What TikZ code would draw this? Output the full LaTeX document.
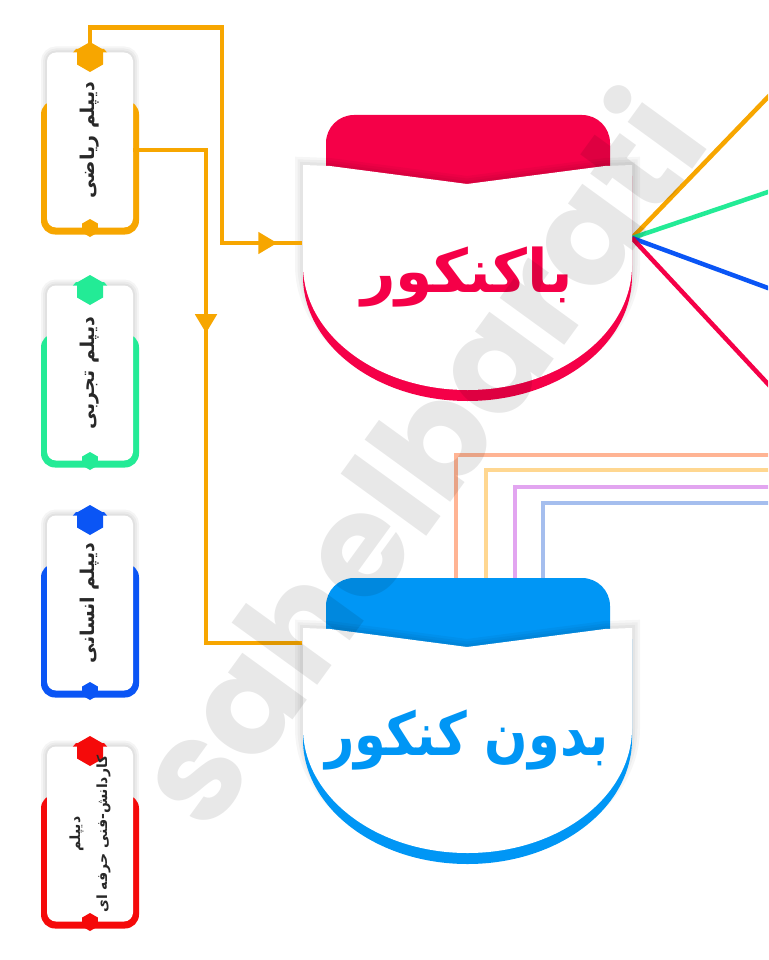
\documentclass[tikz,border=0pt]{standalone}
\usepackage{fontspec}
\usetikzlibrary{calc,arrows.meta,decorations.markings}
\TeXXeTstate=1
\newfontfamily\farsi[Script=Arabic]{DejaVu Sans}
\newfontfamily\farsinarrow[Script=Arabic,FakeStretch=0.85]{DejaVu Sans}
\newfontfamily\wmfont{Poppins}
\definecolor{dorange}{RGB}{247,166,0}
\definecolor{dgreen}{RGB}{35,235,150}
\definecolor{dblue}{RGB}{10,85,245}
\definecolor{dred}{RGB}{245,10,10}
\definecolor{kred}{RGB}{245,0,72}
\definecolor{kblue}{RGB}{0,150,245}
\definecolor{pa1}{RGB}{255,180,148}
\definecolor{pa2}{RGB}{255,215,145}
\definecolor{pa3}{RGB}{226,165,240}
\definecolor{pa4}{RGB}{165,190,238}
\definecolor{darktext}{RGB}{40,40,40}
% outline of the white part of a big box, #1 = its top
\newcommand\bodyshape[1]{(303,#1) -- (303,#1+100) arc[start angle=180,end angle=0,x radius=164.5,y radius=125] -- (632,#1) -- (605,#1+1) -- (467,#1+19) -- (330,#1+1) -- cycle}
% big box: name, top, colour, font, text
\newcommand\mainbox[5]{%
  \fill[#3,rounded corners=28pt] (326,#2-50) rectangle (610,#2+40);
  \foreach \w in {16,11,6} \draw[black,opacity=0.035,line width=\w pt] \bodyshape{#2};
  \fill[#3,shift={(0,11)}] \bodyshape{#2};
  \fill[white] \bodyshape{#2};
  \node[minimum width=329pt,minimum height=225pt,anchor=north,inner sep=0pt] (#1) at (467,#2) {};
  \node[text=#3,font=#4] (#1-t) at (467,#2+112) {#5};
}
\tikzset{
  card/.style={fill=white,rounded corners=9pt,minimum width=86pt,minimum height=175pt,inner sep=0pt},
  cardtext/.style={rotate=90,text=darktext,font=\farsi\bfseries\fontsize{19}{26}\selectfont,align=center,inner sep=0pt},
  link/.style={draw=dorange,line width=4.5pt},
  midarrow/.style={postaction={decorate},decoration={markings,mark=at position #1 with {\arrow[dorange]{Triangle[width=21pt,length=19pt]}}}}
}
\begin{document}
\begin{tikzpicture}[x=1pt,y=-1pt]
\clip (0,0) rectangle (768,960);
\fill[white] (0,0) rectangle (768,960);

% lines leaving the top box
\coordinate (bak-out) at (632,238);
\foreach \yy/\c [count=\i] in {97/dorange, 192/dgreen, 288/dblue, 384/kred}
  \draw[\c,line width=4.5pt] (bak-out) -- ($(bak-out)!1.3!(768,\yy)$);

% lines leaving the bottom box
\foreach \x/\yy/\c [count=\i] in {456/455/pa1, 486/470/pa2, 515/487/pa3, 543/503/pa4} {
  \coordinate (bed-\i) at (\x,600);
  \coordinate (out-\i) at (790,\yy);
  \draw[\c,line width=4pt] (bed-\i) |- (out-\i);
}

% diploma cards
\foreach \y/\c/\n in {140/dorange/riazi, 373/dgreen/tajrobi, 603/dblue/ensani, 834/dred/fani} {
  \foreach \w in {12,8,4} \draw[black,opacity=0.04,line width=\w pt,rounded corners=9pt] (47,\y-87.5) rectangle (133,\y+87.5);
  \fill[\c,rounded corners=14pt] (41,\y-39.5) rectangle (139,\y+94.5);
  \fill[\c] (70,\y-84) -- (76,\y-91) -- (104,\y-91) -- (110,\y-84) -- cycle;
  \node[card] (\n) at (90,\y) {};
  \fill[\c] (90,\y-98) -- ++(13,7.5) -- ++(0,15) -- ++(-13,7.5) -- ++(-13,-7.5) -- ++(0,-15) -- cycle;
  \fill[\c] (90,\y+79) -- ++(7.8,4.5) -- ++(0,9) -- ++(-7.8,4.5) -- ++(-7.8,-4.5) -- ++(0,-9) -- cycle;
}
\node[cardtext] (riazi-t) at (riazi) {\beginR دیپلم ریاضی\endR};
\node[cardtext] (tajrobi-t) at (tajrobi) {\beginR دیپلم تجربی\endR};
\node[cardtext] (ensani-t) at (ensani) {\beginR دیپلم انسانی\endR};
\node[cardtext,font=\farsi\bfseries\fontsize{14}{27}\selectfont] (fani-t) at (fani) {\beginR دیپلم\endR\\\beginR کاردانش-فنی حرفه ای\endR};

% the two big boxes
\mainbox{bak}{165}{kred}{\farsi\bfseries\fontsize{60}{62}\selectfont}{\beginR باکنکور\endR}
\mainbox{bed}{628}{kblue}{\farsinarrow\bfseries\fontsize{60}{62}\selectfont}{\beginR بدون کنکور\endR}

% orange links from the first card
\draw[link,midarrow=428pt] (riazi.north) -- ++(0,-25) -| (222,243) -- ($(bak.north west)+(0,78)$);
\draw[link,midarrow=256pt] ([yshift=-10pt]riazi.east) -| (206,643) -- ($(bed.north west)+(0,15)$);

% watermark
\node[rotate=54,anchor=base east,text=black,opacity=0.09,font=\wmfont\bfseries\fontsize{143}{143}\selectfont] (wm) at (714,140) {sahelbarati};
\end{tikzpicture}
\end{document}
